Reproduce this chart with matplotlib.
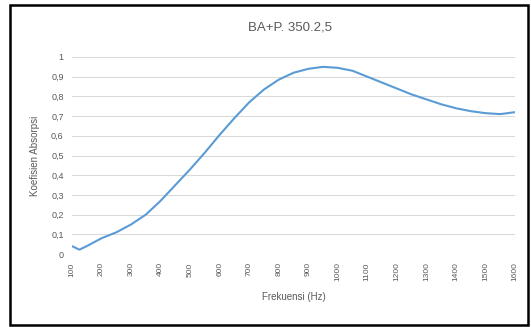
import numpy as np
import matplotlib.pyplot as plt
from matplotlib.patches import Rectangle

# Absorption coefficient (every 50 Hz, plus the small dip at the start)
frekuensi = [100, 125, 150, 200, 250, 300, 350, 400, 450, 500, 550, 600, 650, 700,
             750, 800, 850, 900, 950, 1000, 1050, 1100, 1150, 1200, 1250, 1300,
             1350, 1400, 1450, 1500, 1550, 1600]
koefisien = [0.04, 0.022, 0.04, 0.08, 0.11, 0.15, 0.20, 0.27, 0.35, 0.43, 0.515, 0.605,
             0.69, 0.77, 0.835, 0.885, 0.92, 0.94, 0.95, 0.945, 0.93, 0.90, 0.87, 0.84,
             0.81, 0.785, 0.76, 0.74, 0.725, 0.715, 0.71, 0.72]

x_ticks = list(range(100, 1700, 100))
y_ticks = [0, 0.1, 0.2, 0.3, 0.4, 0.5, 0.6, 0.7, 0.8, 0.9, 1.0]
y_labels = ["0", "0,1", "0,2", "0,3", "0,4", "0,5", "0,6", "0,7", "0,8", "0,9", "1"]

plt.rcParams['font.family'] = ['Liberation Sans', 'DejaVu Sans']
grey = "#595959"

fig = plt.figure(figsize=(5.31, 3.27), dpi=100)
fig.patches.append(Rectangle((10 / 531, 2 / 327), 518 / 531, 320 / 327,
                             transform=fig.transFigure, fill=False,
                             edgecolor="black", linewidth=1.8))

ax = fig.add_axes([72 / 531, 73 / 327, 443 / 531, 197 / 327])
ax.plot(frekuensi, koefisien, color="#5B9BD5", linewidth=1.5, solid_capstyle="round")

ax.set_xlim(100, 1600)
ax.set_ylim(0, 1)
ax.set_xticks(x_ticks)
ax.set_xticklabels([str(v) for v in x_ticks], rotation=90, fontsize=6, color=grey)
ax.set_yticks(y_ticks)
ax.set_yticklabels(y_labels, fontsize=6.5, color=grey)
ax.tick_params(length=0, pad=6)
ax.grid(axis="y", color="#D9D9D9", linewidth=0.75)
ax.set_axisbelow(True)
for s in ax.spines.values():
    s.set_visible(False)

ax.set_xlabel("Frekuensi (Hz)", fontsize=7, color=grey, labelpad=8)
ax.set_ylabel("Koefisien Absorpsi", fontsize=7, color=grey, labelpad=8)
fig.text(290 / 531, 1 - 28 / 327, "BA+P. 350.2,5", fontsize=9.5, color=grey,
         ha="center", va="center")

fig.savefig("out.png", dpi=100)
